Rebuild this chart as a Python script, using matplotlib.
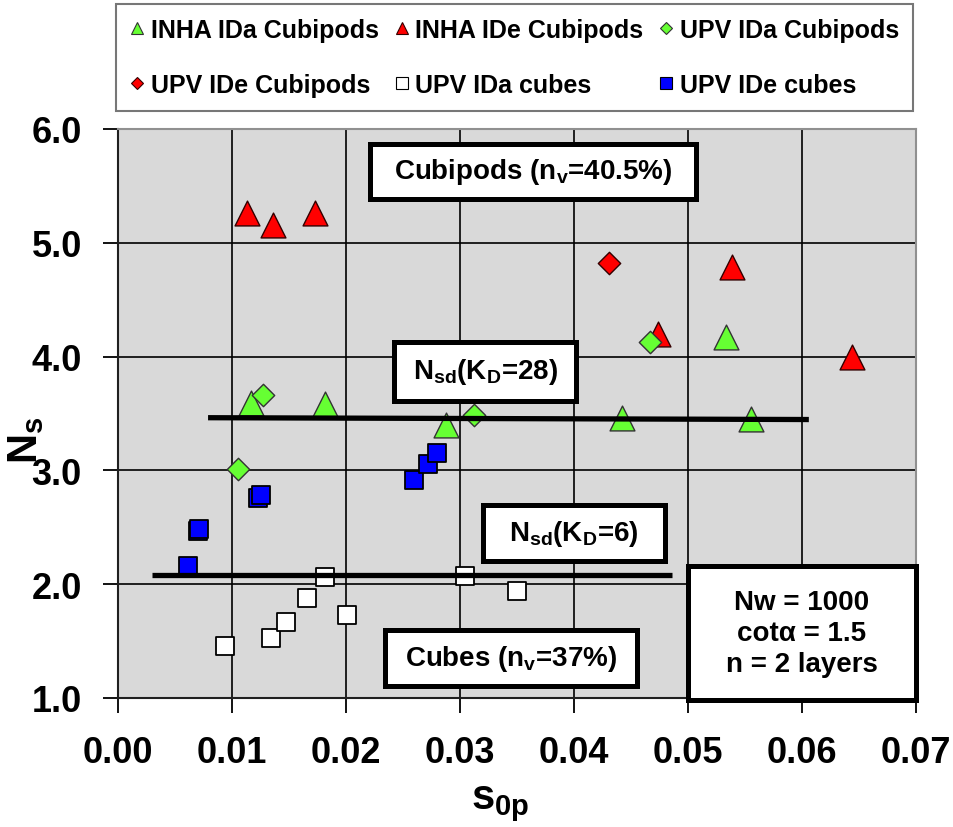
import matplotlib
matplotlib.use("Agg")
import matplotlib.pyplot as plt
from matplotlib.patches import Rectangle
from matplotlib.lines import Line2D
from matplotlib.ticker import FormatStrFormatter

# ---------------- data ----------------
inha_ida_x = [0.0117, 0.0182, 0.0288, 0.0442, 0.0533, 0.0555]
inha_ida_y = [3.59, 3.58, 3.40, 3.46, 4.17, 3.45]

inha_ide_x = [0.0113, 0.0136, 0.0173, 0.0474, 0.0539, 0.0644]
inha_ide_y = [5.26, 5.16, 5.26, 4.20, 4.79, 4.00]

upv_ida_cubipods_x = [0.0105, 0.0127, 0.0312, 0.0467]
upv_ida_cubipods_y = [3.01, 3.66, 3.49, 4.13]

upv_ide_cubipods_x = [0.0431]
upv_ide_cubipods_y = [4.82]

upv_ida_cubes_x = [0.0094, 0.0134, 0.0147, 0.0166, 0.0182, 0.0201, 0.0304, 0.0350]
upv_ida_cubes_y = [1.46, 1.53, 1.67, 1.88, 2.06, 1.73, 2.07, 1.94]

upv_ide_cubes_x = [0.0061, 0.0070, 0.0071, 0.0123, 0.0125, 0.0260, 0.0272, 0.0280]
upv_ide_cubes_y = [2.16, 2.465, 2.485, 2.755, 2.78, 2.915, 3.06, 3.15]

nsd_kd28_x = [0.0079, 0.0606]
nsd_kd28_y = [3.463, 3.447]
nsd_kd6_x = [0.0030, 0.0486]
nsd_kd6_y = [2.08, 2.08]

x_ticks = [0.00, 0.01, 0.02, 0.03, 0.04, 0.05, 0.06, 0.07]
y_ticks = [1.0, 2.0, 3.0, 4.0, 5.0, 6.0]

series_labels = ['INHA IDa Cubipods', 'INHA IDe Cubipods', 'UPV IDa Cubipods',
                 'UPV IDe Cubipods', 'UPV IDa cubes', 'UPV IDe cubes']

# ---------------- style ----------------
plt.rcParams['font.family'] = ['Liberation Sans', 'DejaVu Sans']
plt.rcParams['font.weight'] = 'bold'
plt.rcParams['mathtext.fontset'] = 'custom'
plt.rcParams['mathtext.rm'] = 'Liberation Sans:bold'
plt.rcParams['mathtext.it'] = 'Liberation Sans:bold'
plt.rcParams['mathtext.bf'] = 'Liberation Sans:bold'
plt.rcParams['mathtext.sf'] = 'Liberation Sans:bold'

GREEN = '#66FF33'
RED = '#FF0000'
BLUE = '#0000FF'

fig = plt.figure(figsize=(9.54, 8.28), dpi=100)
ax = fig.add_axes([118/954, 1-699/828, (916-118)/954, (699-130)/828])
ax.set_facecolor('#D9D9D9')

ax.set_xlim(x_ticks[0], x_ticks[-1])
ax.set_ylim(y_ticks[0], y_ticks[-1])
ax.set_xticks(x_ticks)
ax.set_yticks(y_ticks)
ax.xaxis.set_major_formatter(FormatStrFormatter('%.2f'))
ax.yaxis.set_major_formatter(FormatStrFormatter('%.1f'))
ax.tick_params(axis='both', labelsize=26, direction='out', length=11, width=1.3, color='black')
ax.tick_params(axis='x', pad=16)
ax.tick_params(axis='y', pad=15)
ax.grid(True, color='black', linewidth=1.2, zorder=1)
ax.set_axisbelow(True)
for s in ['top', 'right']:
    ax.spines[s].set_color('#909090')
    ax.spines[s].set_linewidth(1.5)
for s in ['left', 'bottom']:
    ax.spines[s].set_color('#202020')
    ax.spines[s].set_linewidth(1.5)

ms_tri = 320
ms_dia = 130
ms_sq = 185

h1 = ax.scatter(inha_ida_x, inha_ida_y, marker='^', s=ms_tri, c=GREEN, edgecolors='#333333', linewidths=1.0, zorder=3)
h2 = ax.scatter(inha_ide_x, inha_ide_y, marker='^', s=ms_tri, c=RED, edgecolors='#330000', linewidths=1.0, zorder=3)
h4 = ax.scatter(upv_ide_cubipods_x, upv_ide_cubipods_y, marker='D', s=ms_dia, c=RED, edgecolors='#330000', linewidths=1.0, zorder=3)
h3 = ax.scatter(upv_ida_cubipods_x, upv_ida_cubipods_y, marker='D', s=ms_dia, c=GREEN, edgecolors='#333333', linewidths=1.0, zorder=3)
h5 = ax.scatter(upv_ida_cubes_x, upv_ida_cubes_y, marker='s', s=ms_sq, c='white', edgecolors='black', linewidths=1.3, zorder=3)
h6 = ax.scatter(upv_ide_cubes_x, upv_ide_cubes_y, marker='s', s=ms_sq, c=BLUE, edgecolors='black', linewidths=1.3, zorder=3)

ax.plot(nsd_kd28_x, nsd_kd28_y, color='black', linewidth=3.8, solid_capstyle='butt', zorder=4)
ax.plot(nsd_kd6_x, nsd_kd6_y, color='black', linewidth=3.8, solid_capstyle='butt', zorder=4)


def boxed(x0, x1, y0, y1, txt, size=20, ls=1.2):
    r = Rectangle((x0, y0), x1 - x0, y1 - y0, facecolor='white', edgecolor='black',
                  linewidth=3.6, zorder=5, clip_on=False)
    ax.add_patch(r)
    ax.text((x0 + x1) / 2, (y0 + y1) / 2, txt, ha='center', va='center', fontsize=size,
            fontweight='bold', zorder=6, linespacing=ls, clip_on=False)


boxed(0.02211, 0.0507, 5.386, 5.868, 'Cubipods (n$_{\\mathrm{v}}$=40.5%)')
boxed(0.02421, 0.04018, 3.614, 4.132, 'N$_{\\mathrm{sd}}$(K$_{\\mathrm{D}}$=28)')
boxed(0.03202, 0.04798, 2.202, 2.693, 'N$_{\\mathrm{sd}}$(K$_{\\mathrm{D}}$=6)')
boxed(0.02342, 0.04553, 1.105, 1.596, 'Cubes (n$_{\\mathrm{v}}$=37%)')
boxed(0.0500, 0.0700, 0.985, 2.158, 'Nw = 1000\ncot\u03b1 = 1.5\nn = 2 layers', ls=1.25)

ax.set_ylabel('N$_{\\mathrm{s}}$', fontsize=30, fontweight='bold')
ax.yaxis.set_label_coords(-0.090, 0.455)
ax.set_xlabel('s$_{\\mathrm{0p}}$', fontsize=30, fontweight='bold')
ax.xaxis.set_label_coords(0.479, -0.150)

handles = [
    Line2D([], [], ls='none', marker='^', ms=8, mfc=GREEN, mec='#333333', mew=0.8),
    Line2D([], [], ls='none', marker='^', ms=8, mfc=RED, mec='#330000', mew=0.8),
    Line2D([], [], ls='none', marker='D', ms=6, mfc=GREEN, mec='#333333', mew=0.8),
    Line2D([], [], ls='none', marker='D', ms=6, mfc=RED, mec='#330000', mew=0.8),
    Line2D([], [], ls='none', marker='s', ms=8, mfc='white', mec='black', mew=0.8),
    Line2D([], [], ls='none', marker='s', ms=8, mfc=BLUE, mec='black', mew=0.8),
]
# legend fills column-first; reorder so it reads row by row
order = [0, 3, 1, 4, 2, 5]
leg = fig.legend([handles[i] for i in order], [series_labels[i] for i in order],
                 ncol=3, loc='upper left',
                 bbox_to_anchor=(116/954, 1-5/828, 797/954, 0), mode='expand',
                 fontsize=18, frameon=True, fancybox=False, edgecolor='#555555',
                 handlelength=0.6, handletextpad=0.25, labelspacing=1.25,
                 borderpad=0.55, borderaxespad=0, columnspacing=1.0)
leg.get_frame().set_linewidth(1.5)
for t in leg.get_texts():
    t.set_fontweight('bold')

fig.savefig('out.png', dpi=100)
